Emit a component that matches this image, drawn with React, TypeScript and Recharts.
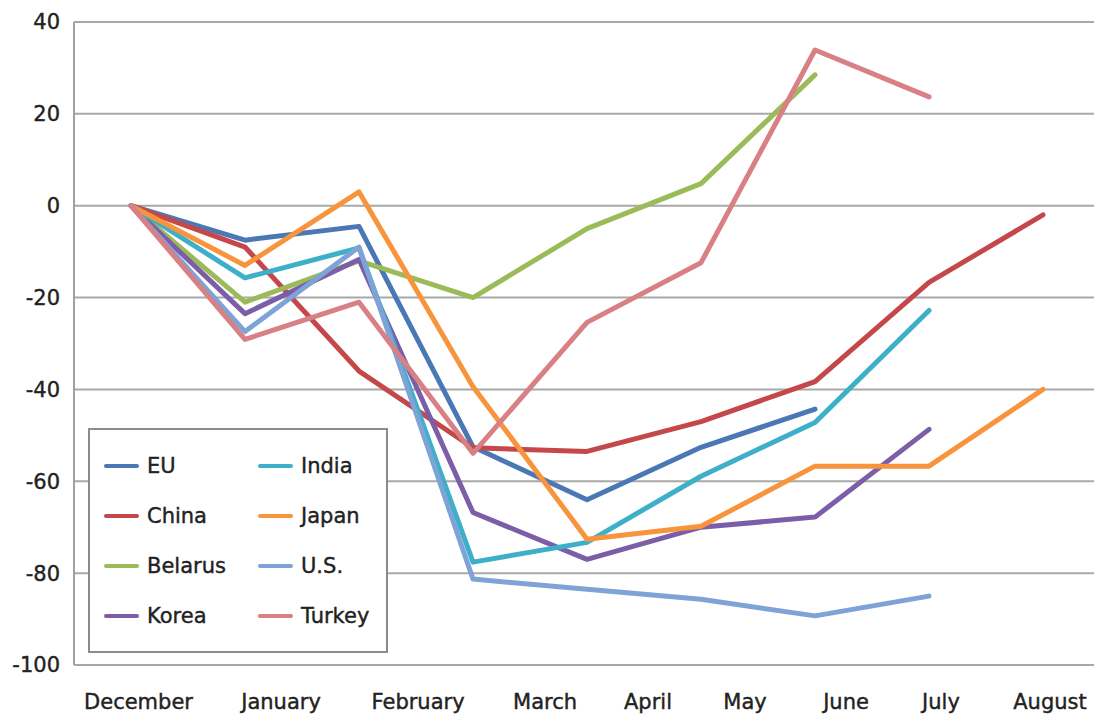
import React from "react";
import { LineChart, Line, XAxis, YAxis, CartesianGrid, Legend } from "recharts";

const months = ["December", "January", "February", "March", "April", "May", "June", "July", "August"];
// Where each month label sits along the index axis (the source chart's labels are offset from the points)
const monthLabelSlots = [0.066, 1.316, 2.518, 3.632, 4.535, 5.386, 6.272, 7.105, 8.061];
const yTicks = [-100, -80, -60, -40, -20, 0, 20, 40];

const eu = [0, -7.5, -4.5, -52.5, -64, -52.6, -44.3, null, null];
const china = [0, -9, -36, -52.7, -53.5, -47, -38.3, -16.7, -2];
const belarus = [0, -21, -12, -20, -5, 4.8, 28.5, null, null];
const korea = [0, -23.5, -11.7, -66.8, -77, -70, -67.8, -48.7, null];
const india = [0, -15.7, -9.2, -77.6, -73.3, -58.9, -47.2, -22.8, null];
const japan = [0, -13, 3, -39.4, -72.6, -69.8, -56.7, -56.7, -40];
const us = [0, -27.4, -9, -81.3, -83.5, -85.7, -89.3, -85, null];
const turkey = [0, -29.1, -21, -53.9, -25.4, -12.4, 33.9, 23.7, null];

const series = [
  { key: "EU", values: eu, color: "#4A78B5" },
  { key: "China", values: china, color: "#C4484A" },
  { key: "Belarus", values: belarus, color: "#9BBB59" },
  { key: "Korea", values: korea, color: "#7B5EA7" },
  { key: "India", values: india, color: "#3EAFC9" },
  { key: "Japan", values: japan, color: "#F7943C" },
  { key: "U.S.", values: us, color: "#7EA3D6" },
  { key: "Turkey", values: turkey, color: "#D88084" },
];
const seriesOrder = series.map((s) => s.key);

const data = months.map((m, i) => {
  const row: any = { idx: i, month: m };
  series.forEach((s) => {
    row[s.key] = s.values[i];
  });
  return row;
});

const FONT = "'DejaVu Sans', sans-serif";

const renderLegend = (props: any) => {
  const payload = [...(props.payload || [])].sort(
    (a: any, b: any) => seriesOrder.indexOf(a.value) - seriesOrder.indexOf(b.value)
  );
  return (
    <div
      style={{
        position: "relative",
        width: 300,
        height: 225,
        boxSizing: "border-box",
        border: "2px solid #8c8c8c",
        background: "#fff",
        fontFamily: FONT,
      }}
    >
      {payload.map((p: any, i: number) => {
        const col = Math.floor(i / 4);
        const row = i % 4;
        return (
          <div
            key={p.value}
            style={{
              position: "absolute",
              left: 14 + col * 154,
              top: 36 + row * 50 - 14,
              height: 28,
              display: "flex",
              alignItems: "center",
            }}
          >
            <div
              style={{
                width: 35,
                height: 4,
                borderRadius: 2,
                background: p.color,
                marginRight: 8,
              }}
            />
            <span
              style={{
                fontSize: 21,
                color: "#222",
                WebkitTextStroke: "0.4px #222",
                lineHeight: "28px",
              }}
            >
              {p.value}
            </span>
          </div>
        );
      })}
    </div>
  );
};

export default function App() {
  const tickStyle = { fontFamily: FONT, fontSize: 21, fill: "#222", stroke: "#222", strokeWidth: 0.4 };
  return (
    <div style={{ position: "absolute", left: 0, top: 0, width: 1094, height: 717, background: "#fff" }}>
      <LineChart width={1094} height={717} data={data} margin={{ top: 22, right: 0, bottom: 0, left: 0 }}>
        <CartesianGrid vertical={false} stroke="#a8a8a8" strokeWidth={2} />
        <XAxis
          dataKey="idx"
          type="number"
          domain={[-0.5, 8.447]}
          allowDataOverflow
          ticks={monthLabelSlots}
          interval={0}
          tickFormatter={(v: number) => months[monthLabelSlots.indexOf(v)] ?? ""}
          axisLine={false}
          tickLine={false}
          tickSize={0}
          tickMargin={29}
          height={52}
          tick={tickStyle}
        />
        <YAxis
          type="number"
          domain={[-100, 40]}
          ticks={yTicks}
          interval={0}
          width={74}
          axisLine={{ stroke: "#a0a0a0", strokeWidth: 2 }}
          tickLine={false}
          tickSize={0}
          tickMargin={14}
          tick={tickStyle}
        />
        {series.map((s) => (
          <Line
            key={s.key}
            type="linear"
            dataKey={s.key}
            name={s.key}
            stroke={s.color}
            strokeWidth={5}
            strokeLinecap="round"
            strokeLinejoin="round"
            dot={false}
            activeDot={false}
            isAnimationActive={false}
          />
        ))}
        <Legend
          layout="vertical"
          align="center"
          verticalAlign="middle"
          itemSorter={null as any}
          content={renderLegend}
          wrapperStyle={{ position: "absolute", left: 88, top: 428, width: 300, height: 225 }}
        />
      </LineChart>
    </div>
  );
}
